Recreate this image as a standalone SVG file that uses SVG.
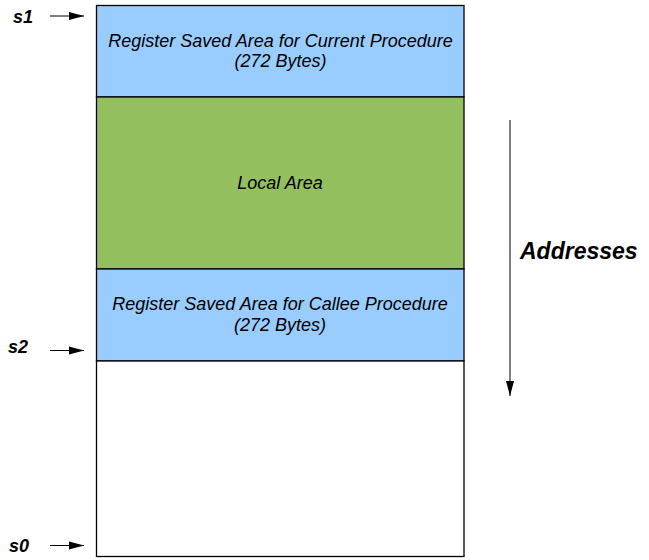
<svg xmlns="http://www.w3.org/2000/svg" width="649" height="560" viewBox="0 0 649 560">
<style>
.box{stroke:#000;stroke-width:1.3}
.t{font-family:"Liberation Sans",Arial,sans-serif;font-style:italic;font-size:18px;fill:#000;text-anchor:middle}
.lbl{font-family:"Liberation Sans",Arial,sans-serif;font-style:italic;font-weight:bold;font-size:18px;fill:#000}
.ln{stroke:#000;stroke-width:1;fill:none}
</style>
<defs>
<marker id="ah" markerWidth="16" markerHeight="10" refX="15" refY="5" orient="auto" markerUnits="userSpaceOnUse">
<path d="M0,1 L15,5 L0,9 Z" fill="#000"/>
</marker>
</defs>
<rect x="0" y="0" width="649" height="560" fill="#fff"/>
<g id="current">
<rect class="box" x="96.5" y="5.5" width="367.5" height="91.5" fill="#99ccff"/>
<text class="t" x="280.5" y="47">Register Saved Area for Current Procedure</text>
<text class="t" x="280.5" y="67">(272 Bytes)</text>
</g>
<g id="local">
<rect class="box" x="96.5" y="97" width="367.5" height="172" fill="#94bf5f"/>
<text class="t" x="280" y="189">Local Area</text>
</g>
<g id="callee">
<rect class="box" x="96.5" y="269" width="367.5" height="92" fill="#99ccff"/>
<text class="t" x="280" y="310">Register Saved Area for Callee Procedure</text>
<text class="t" x="280" y="331">(272 Bytes)</text>
</g>
<g id="free">
<rect class="box" x="96.5" y="361" width="367.5" height="195.5" fill="#fff"/>
</g>
<g id="labels">
<text class="lbl" x="13" y="23">s1</text>
<text class="lbl" x="8" y="353">s2</text>
<text class="lbl" x="9" y="552">s0</text>
<text class="lbl" x="520" y="259" style="font-size:23px">Addresses</text>
</g>
<g id="connectors">
<line class="ln" x1="50" y1="16" x2="84" y2="16" marker-end="url(#ah)"/>
<line class="ln" x1="50" y1="350.5" x2="84" y2="350.5" marker-end="url(#ah)"/>
<line class="ln" x1="50" y1="545.5" x2="84" y2="545.5" marker-end="url(#ah)"/>
<line class="ln" x1="510" y1="120" x2="510" y2="396" marker-end="url(#ah)"/>
</g>
</svg>
